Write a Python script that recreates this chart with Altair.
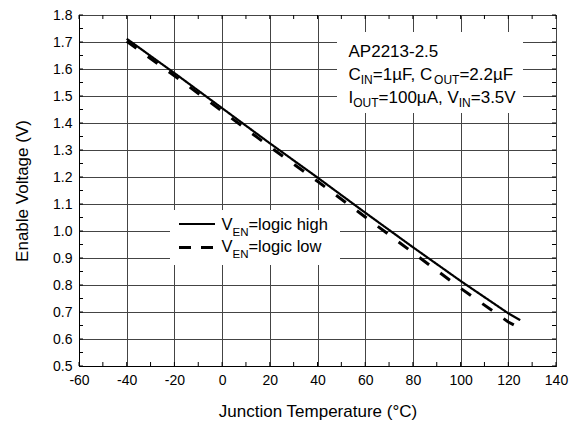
import altair as alt
import pandas as pd

# ---------------- data ----------------
temps = [-40, -20, 0, 20, 40, 60, 80, 100, 120, 125]
v_high = [1.712, 1.585, 1.455, 1.325, 1.198, 1.068, 0.940, 0.815, 0.695, 0.670]
v_low = [1.703, 1.575, 1.444, 1.312, 1.184, 1.052, 0.920, 0.788, 0.663, 0.640]
series_names = ["logic high", "logic low"]

x_ticks = list(range(-60, 141, 20))
x_minor = list(range(-60, 141, 10))
y_ticks = [round(0.5 + 0.1 * i, 2) for i in range(14)]
y_minor = [round(0.5 + 0.05 * i, 3) for i in range(27)]

ann_lines = [
    [("AP2213-2.5", False)],
    [("C", False), ("IN", True), ("=1µF, C", False), ("OUT", True), ("=2.2µF", False)],
    [("I", False), ("OUT", True), ("=100µA, V", False), ("IN", True), ("=3.5V", False)],
]
legend_lines = [
    [("V", False), ("EN", True), ("=logic high", False)],
    [("V", False), ("EN", True), ("=logic low", False)],
]

# ---------------- layout ----------------
W, H = 477, 351
XDOM = [-60, 140]
YDOM = [0.5, 1.8]
FONT = "Liberation Sans"

AW = {' ': 278, ',': 278, '-': 333, '.': 278, '=': 584, 'A': 667, 'C': 722, 'E': 667,
      'F': 611, 'I': 278, 'N': 722, 'O': 778, 'P': 667, 'T': 611, 'U': 722, 'V': 667,
      'c': 500, 'g': 556, 'h': 556, 'i': 222, 'l': 222, 'o': 556, 'w': 722, 'µ': 576}
for d in "0123456789":
    AW[d] = 556


def text_w(s, size):
    return sum(AW.get(ch, 556) for ch in s) / 1000.0 * size


def px2t(px):
    return XDOM[0] + px / W * (XDOM[1] - XDOM[0])


def py2v(py):
    return YDOM[1] - py / H * (YDOM[1] - YDOM[0])


def layout(lines, x0, y0, dy, main_size, sub_size, sub_drop):
    rows = []
    for i, segs in enumerate(lines):
        x = x0
        yb = y0 + i * dy
        for s, sub in segs:
            size = sub_size if sub else main_size
            yy = yb + (sub_drop if sub else 0)
            rows.append({"t": px2t(x), "v": py2v(yy), "txt": s, "size": size})
            x += text_w(s, size)
    return pd.DataFrame(rows)


xs = alt.Scale(domain=XDOM, nice=False, zero=False)
ys = alt.Scale(domain=YDOM, nice=False, zero=False)

df = pd.DataFrame({
    "T": temps * 2,
    "V": v_high + v_low,
    "s": [series_names[0]] * len(temps) + [series_names[1]] * len(temps),
})

# main layer: curves + labelled axes + grid
lines = alt.Chart(df).mark_line(color="black").encode(
    x=alt.X("T:Q", scale=xs, axis=alt.Axis(
        values=x_ticks, grid=True, gridColor="#444", gridWidth=1, ticks=False,
        domain=True, domainColor="black", labelPadding=7, labelFontSize=14,
        labelFont=FONT, labelColor="black", title="Junction Temperature (°C)",
        labelExpr="datum.value < 0 ? '-' + abs(datum.value) : '' + datum.value",
        titleFont=FONT, titleFontSize=17, titleFontWeight="normal", titleColor="black",
        titlePadding=16, labelFlush=False, orient="bottom")),
    y=alt.Y("V:Q", scale=ys, axis=alt.Axis(
        values=y_ticks, format=".1f", grid=True, gridColor="#444", gridWidth=1, ticks=False,
        domain=True, domainColor="black", labelPadding=7, labelFontSize=14,
        labelFont=FONT, labelColor="black", title="Enable Voltage (V)",
        titleFont=FONT, titleFontSize=17, titleFontWeight="normal", titleColor="black",
        titlePadding=21, labelFlush=False, orient="left")),
    strokeDash=alt.StrokeDash("s:N", scale=alt.Scale(domain=series_names, range=[[1, 0], [12, 14]]),
                              legend=None),
    strokeWidth=alt.StrokeWidth("s:N", scale=alt.Scale(domain=series_names, range=[2.2, 3]), legend=None),
)

# inward minor ticks on all four sides
xm_df = pd.DataFrame({"T": x_minor})
ym_df = pd.DataFrame({"V": y_minor})
tick_bottom = alt.Chart(xm_df).mark_rule(color="black", strokeWidth=1).encode(
    x=alt.X("T:Q", scale=xs, axis=None), y=alt.value(H - 4), y2=alt.value(H))
tick_top = alt.Chart(xm_df).mark_rule(color="black", strokeWidth=1).encode(
    x=alt.X("T:Q", scale=xs, axis=None), y=alt.value(0), y2=alt.value(4))
tick_left = alt.Chart(ym_df).mark_rule(color="black", strokeWidth=1).encode(
    y=alt.Y("V:Q", scale=ys, axis=None), x=alt.value(0), x2=alt.value(4))
tick_right = alt.Chart(ym_df).mark_rule(color="black", strokeWidth=1).encode(
    y=alt.Y("V:Q", scale=ys, axis=None), x=alt.value(W - 4), x2=alt.value(W))

box_df = pd.DataFrame({"k": [0]})
ann_box = alt.Chart(box_df).mark_rect(fill="white").encode(
    x=alt.value(258), x2=alt.value(444), y=alt.value(17), y2=alt.value(98))
leg_box = alt.Chart(box_df).mark_rect(fill="white").encode(
    x=alt.value(91), x2=alt.value(261), y=alt.value(195), y2=alt.value(250))

leg_solid = alt.Chart(box_df).mark_rule(color="black", strokeWidth=2.2).encode(
    x=alt.value(100), x2=alt.value(136), y=alt.value(209))
leg_dash = alt.Chart(box_df).mark_rule(color="black", strokeWidth=3, strokeDash=[12, 10]).encode(
    x=alt.value(100), x2=alt.value(136), y=alt.value(232.5))

ann_df = layout(ann_lines, 269.5, 41.7, 23.2, 17, 12, 4)
leg_df = layout(legend_lines, 142.5, 214.5, 22.7, 16.5, 11.5, 6)
txt_df = pd.concat([ann_df, leg_df], ignore_index=True)

texts = alt.Chart(txt_df).mark_text(align="left", baseline="alphabetic", font=FONT, color="black").encode(
    x=alt.X("t:Q", scale=xs, axis=None),
    y=alt.Y("v:Q", scale=ys, axis=None),
    text="txt:N",
    size=alt.Size("size:Q", scale=None, legend=None),
)

chart = alt.layer(
    lines, tick_bottom, tick_top, tick_left, tick_right,
    ann_box, leg_box, leg_solid, leg_dash, texts
).resolve_axis(x="independent", y="independent").properties(
    width=W, height=H,
    background="white",
    autosize=alt.AutoSizeParams(type="none"),
    padding={"left": 71, "top": 7, "right": 13, "bottom": 56},
).configure_view(stroke="black", strokeWidth=1)

chart.save("out.html", embed_options={"renderer": "svg", "actions": False})
